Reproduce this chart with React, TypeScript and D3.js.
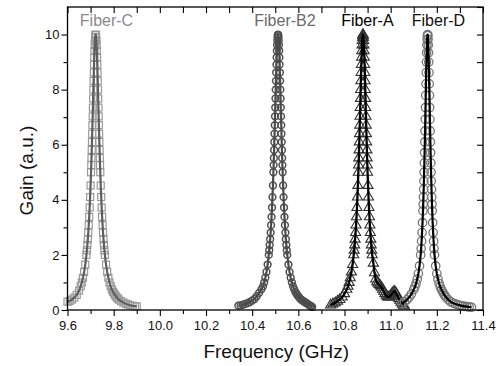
import { useRef, useEffect } from 'react';
import * as d3 from 'd3';

type Pt = [number, number];

const X_TICKS = [9.6, 9.8, 10.0, 10.2, 10.4, 10.6, 10.8, 11.0, 11.2, 11.4];
const X_MINOR = [9.7, 9.9, 10.1, 10.3, 10.5, 10.7, 10.9, 11.1, 11.3];
const Y_TICKS = [0, 2, 4, 6, 8, 10];
const Y_MINOR = [1, 3, 5, 7, 9];
const Y_RIGHT = [0, 1, 2, 3, 4, 5, 6, 7, 8, 9, 10, 11];

// frequency (GHz), gain (a.u.)
const fiberC: Pt[] = [
  [9.600, 0.30], [9.610, 0.33], [9.620, 0.38], [9.630, 0.45], [9.640, 0.55], [9.650, 0.70], [9.657, 0.86], [9.662, 1.00],
  [9.667, 1.17], [9.672, 1.38], [9.677, 1.65], [9.682, 2.00], [9.684, 2.17], [9.686, 2.36], [9.688, 2.57], [9.690, 2.81],
  [9.692, 3.08], [9.694, 3.38], [9.696, 3.72], [9.698, 4.10], [9.700, 4.52], [9.702, 5.00], [9.703, 5.26], [9.704, 5.52],
  [9.705, 5.81], [9.706, 6.10], [9.707, 6.40], [9.708, 6.71], [9.709, 7.03], [9.710, 7.35], [9.711, 7.68], [9.712, 8.00],
  [9.713, 8.32], [9.714, 8.62], [9.715, 8.91], [9.716, 9.17], [9.717, 9.41], [9.718, 9.62], [9.719, 9.78], [9.720, 9.90],
  [9.721, 9.98], [9.722, 10.0], [9.723, 9.98], [9.724, 9.90], [9.725, 9.78], [9.726, 9.62], [9.727, 9.41], [9.728, 9.17],
  [9.729, 8.91], [9.730, 8.62], [9.731, 8.32], [9.732, 8.00], [9.733, 7.68], [9.734, 7.35], [9.735, 7.03], [9.736, 6.71],
  [9.737, 6.40], [9.738, 6.10], [9.739, 5.81], [9.740, 5.52], [9.741, 5.26], [9.742, 5.00], [9.744, 4.52], [9.746, 4.10],
  [9.748, 3.72], [9.750, 3.38], [9.752, 3.08], [9.754, 2.81], [9.756, 2.57], [9.758, 2.36], [9.760, 2.17], [9.762, 2.00],
  [9.767, 1.65], [9.772, 1.38], [9.777, 1.17], [9.782, 1.00], [9.787, 0.86], [9.792, 0.75], [9.797, 0.66], [9.802, 0.59],
  [9.807, 0.53], [9.812, 0.47], [9.817, 0.42], [9.822, 0.38], [9.832, 0.32], [9.842, 0.27], [9.852, 0.23], [9.862, 0.20],
  [9.872, 0.17], [9.882, 0.15], [9.892, 0.14], [9.900, 0.13],
];

const fiberB2: Pt[] = [
  [10.340, 0.16], [10.350, 0.17], [10.360, 0.19], [10.370, 0.22], [10.380, 0.25], [10.390, 0.29], [10.400, 0.34], [10.410, 0.40],
  [10.420, 0.50], [10.430, 0.62], [10.440, 0.75], [10.447, 0.86], [10.452, 1.00], [10.457, 1.17], [10.462, 1.38], [10.467, 1.65],
  [10.472, 2.00], [10.474, 2.17], [10.476, 2.36], [10.478, 2.57], [10.480, 2.81], [10.482, 3.08], [10.484, 3.38], [10.486, 3.72],
  [10.488, 4.10], [10.490, 4.52], [10.492, 5.00], [10.493, 5.26], [10.494, 5.52], [10.495, 5.81], [10.496, 6.10], [10.497, 6.40],
  [10.498, 6.71], [10.499, 7.03], [10.500, 7.35], [10.501, 7.68], [10.502, 8.00], [10.503, 8.32], [10.504, 8.62], [10.505, 8.91],
  [10.506, 9.17], [10.507, 9.41], [10.508, 9.62], [10.509, 9.78], [10.510, 9.90], [10.511, 9.98], [10.512, 10.0], [10.513, 9.98],
  [10.514, 9.90], [10.515, 9.78], [10.516, 9.62], [10.517, 9.41], [10.518, 9.17], [10.519, 8.91], [10.520, 8.62], [10.521, 8.32],
  [10.522, 8.00], [10.523, 7.68], [10.524, 7.35], [10.525, 7.03], [10.526, 6.71], [10.527, 6.40], [10.528, 6.10], [10.529, 5.81],
  [10.530, 5.52], [10.531, 5.26], [10.532, 5.00], [10.534, 4.52], [10.536, 4.10], [10.538, 3.72], [10.540, 3.38], [10.542, 3.08],
  [10.544, 2.81], [10.546, 2.57], [10.548, 2.36], [10.550, 2.17], [10.552, 2.00], [10.557, 1.65], [10.562, 1.38], [10.567, 1.17],
  [10.572, 1.00], [10.577, 0.86], [10.582, 0.75], [10.587, 0.66], [10.592, 0.59], [10.597, 0.53], [10.602, 0.47], [10.607, 0.42],
  [10.612, 0.38], [10.617, 0.35], [10.622, 0.32], [10.627, 0.29], [10.632, 0.27], [10.637, 0.24], [10.642, 0.21], [10.647, 0.18],
  [10.652, 0.15], [10.656, 0.13], [10.660, 0.11],
];

const fiberA: Pt[] = [
  [10.740, 0.18], [10.750, 0.22], [10.760, 0.26], [10.770, 0.32], [10.780, 0.38], [10.790, 0.47], [10.800, 0.59], [10.810, 0.75],
  [10.815, 0.86], [10.820, 1.00], [10.825, 1.17], [10.830, 1.38], [10.835, 1.65], [10.840, 2.00], [10.842, 2.17], [10.844, 2.36],
  [10.846, 2.57], [10.848, 2.81], [10.850, 3.08], [10.852, 3.38], [10.854, 3.72], [10.856, 4.10], [10.858, 4.52], [10.860, 5.00],
  [10.861, 5.26], [10.862, 5.52], [10.863, 5.81], [10.864, 6.10], [10.865, 6.40], [10.866, 6.71], [10.867, 7.03], [10.868, 7.35],
  [10.869, 7.68], [10.870, 8.00], [10.871, 8.32], [10.872, 8.62], [10.873, 8.91], [10.874, 9.17], [10.875, 9.41], [10.876, 9.62],
  [10.877, 9.78], [10.878, 9.90], [10.879, 9.98], [10.880, 10.0], [10.881, 9.98], [10.882, 9.90], [10.883, 9.78], [10.884, 9.62],
  [10.885, 9.41], [10.886, 9.17], [10.887, 8.91], [10.888, 8.62], [10.889, 8.32], [10.890, 8.00], [10.891, 7.68], [10.892, 7.35],
  [10.893, 7.03], [10.894, 6.71], [10.895, 6.40], [10.896, 6.10], [10.897, 5.81], [10.898, 5.52], [10.899, 5.26], [10.900, 5.00],
  [10.902, 4.52], [10.904, 4.10], [10.906, 3.72], [10.908, 3.38], [10.910, 3.08], [10.912, 2.81], [10.914, 2.57], [10.916, 2.36],
  [10.918, 2.17], [10.920, 2.00], [10.925, 1.70], [10.930, 1.35], [10.935, 1.12], [10.940, 1.02], [10.945, 0.97], [10.950, 0.92],
  [10.955, 0.88], [10.960, 0.82], [10.965, 0.75], [10.970, 0.68], [10.975, 0.60], [10.980, 0.53], [10.985, 0.48], [10.990, 0.46],
  [10.995, 0.48], [11.000, 0.53], [11.005, 0.58], [11.010, 0.63], [11.015, 0.68], [11.020, 0.65], [11.025, 0.58], [11.030, 0.50],
  [11.035, 0.42], [11.040, 0.35], [11.045, 0.28], [11.050, 0.22], [11.055, 0.17], [11.060, 0.14],
];

const fiberD: Pt[] = [
  [11.050, 0.22], [11.060, 0.30], [11.070, 0.37], [11.080, 0.46], [11.090, 0.58], [11.100, 0.74], [11.105, 0.84], [11.110, 0.96],
  [11.115, 1.12], [11.120, 1.32], [11.125, 1.60], [11.130, 2.00], [11.132, 2.23], [11.134, 2.50], [11.136, 2.81], [11.138, 3.17],
  [11.140, 3.60], [11.141, 3.84], [11.142, 4.10], [11.143, 4.38], [11.144, 4.68], [11.145, 5.00], [11.146, 5.34], [11.147, 5.71],
  [11.148, 6.10], [11.149, 6.50], [11.150, 6.92], [11.151, 7.35], [11.152, 7.79], [11.153, 8.21], [11.154, 8.62], [11.155, 9.00],
  [11.156, 9.34], [11.157, 9.62], [11.158, 9.83], [11.159, 9.96], [11.160, 10.0], [11.161, 9.96], [11.162, 9.83], [11.163, 9.62],
  [11.164, 9.34], [11.165, 9.00], [11.166, 8.62], [11.167, 8.21], [11.168, 7.79], [11.169, 7.35], [11.170, 6.92], [11.171, 6.50],
  [11.172, 6.10], [11.173, 5.71], [11.174, 5.34], [11.175, 5.00], [11.176, 4.68], [11.177, 4.38], [11.178, 4.10], [11.179, 3.84],
  [11.180, 3.60], [11.182, 3.17], [11.184, 2.81], [11.186, 2.50], [11.188, 2.23], [11.190, 2.00], [11.195, 1.60], [11.200, 1.32],
  [11.205, 1.12], [11.210, 0.96], [11.215, 0.84], [11.220, 0.74], [11.225, 0.66], [11.230, 0.58], [11.235, 0.52], [11.240, 0.46],
  [11.250, 0.37], [11.260, 0.30], [11.270, 0.25], [11.280, 0.22], [11.290, 0.19], [11.300, 0.17], [11.310, 0.15], [11.320, 0.13],
  [11.330, 0.12], [11.340, 0.11], [11.350, 0.10],
];

// label anchors in data units (centre frequency, baseline gain)
const LABELS = [
  { text: 'Fiber-C', f: 9.769, g: 10.3, color: '#8a8a8a' },
  { text: 'Fiber-B2', f: 10.542, g: 10.3, color: '#6a6a6a' },
  { text: 'Fiber-A', f: 10.899, g: 10.3, color: '#000' },
  { text: 'Fiber-D', f: 11.207, g: 10.3, color: '#111' },
];

const SERIES = [
  { data: fiberC, marker: 'square', mk: '#9a9a9a', sw: 1.2, line: '#5e5e5e', lw: 2.2 },
  { data: fiberB2, marker: 'circle', mk: '#505050', sw: 1.5, line: '#4a4a4a', lw: 2.2, r: 3.4 },
  { data: fiberA, marker: 'triangle', mk: '#333', sw: 1.1, line: '#000', lw: 2.3 },
  { data: fiberD, marker: 'circle', mk: '#777', sw: 1.3, line: '#000', lw: 2.2, r: 4.2 },
];

const FONT = '"Liberation Sans", Arial, Helvetica, sans-serif';

export default function App() {
  const ref = useRef<SVGSVGElement | null>(null);

  useEffect(() => {
    const svg = d3.select(ref.current);
    svg.selectAll('*').remove();

    const L = 67.5, R = 483, T = 7, B = 310;
    const x = d3.scaleLinear().domain([9.6, 11.4]).range([L, R]);
    const y = d3.scaleLinear().domain([0, 11]).range([B, T]);

    svg.append('rect').attr('width', 503).attr('height', 366).attr('fill', '#fff');

    const styleAxis = (s: any) => {
      s.select('.domain').remove();
      s.selectAll('line').attr('stroke', '#000').attr('stroke-width', 1.1);
      s.selectAll('text').attr('fill', '#111').style('font-family', FONT).style('font-size', '13px');
    };

    // bottom
    svg.append('g').attr('transform', `translate(0,${B})`)
      .call(d3.axisBottom(x).tickValues(X_TICKS).tickSize(6).tickPadding(5).tickFormat(d3.format('.1f')))
      .call(styleAxis);
    svg.append('g').attr('transform', `translate(0,${B})`)
      .call(d3.axisBottom(x).tickValues(X_MINOR).tickSize(4).tickFormat(() => ''))
      .call(styleAxis);
    // left
    svg.append('g').attr('transform', `translate(${L},0)`)
      .call(d3.axisLeft(y).tickValues(Y_TICKS).tickSize(6).tickPadding(2).tickFormat(d3.format('d')))
      .call(styleAxis);
    svg.append('g').attr('transform', `translate(${L},0)`)
      .call(d3.axisLeft(y).tickValues(Y_MINOR).tickSize(4).tickFormat(() => ''))
      .call(styleAxis);
    // top & right, ticks pointing inward
    svg.append('g').attr('transform', `translate(0,${T})`)
      .call(d3.axisTop(x).tickValues([...X_TICKS, ...X_MINOR]).tickSize(-6).tickFormat(() => ''))
      .call(styleAxis);
    svg.append('g').attr('transform', `translate(${R},0)`)
      .call(d3.axisRight(y).tickValues(Y_RIGHT).tickSize(-6).tickFormat(() => ''))
      .call(styleAxis);

    const line = d3.line<Pt>().x(d => x(d[0])).y(d => y(d[1]));
    const tri = d3.symbol().type(d3.symbolTriangle).size(44)();

    SERIES.forEach(s => {
      const g = svg.append('g');
      const mg = g.append('g').attr('fill', 'none').attr('stroke', s.mk).attr('stroke-width', s.sw);
      s.data.forEach(([f, v]) => {
        const cx = x(f), cy = y(v);
        if (s.marker === 'square') {
          mg.append('rect').attr('x', cx - 3.5).attr('y', cy - 3.5).attr('width', 7).attr('height', 7);
        } else if (s.marker === 'triangle') {
          mg.append('path').attr('d', tri).attr('transform', `translate(${cx},${cy})`);
        } else {
          mg.append('circle').attr('cx', cx).attr('cy', cy).attr('r', s.r ?? 3);
        }
      });
      g.append('path').datum(s.data).attr('d', line)
        .attr('fill', 'none').attr('stroke', s.line).attr('stroke-width', s.lw)
        .attr('stroke-linejoin', 'round');
    });

    // frame
    svg.append('rect').attr('x', L).attr('y', T).attr('width', R - L).attr('height', B - T)
      .attr('fill', 'none').attr('stroke', '#000').attr('stroke-width', 1.3);

    LABELS.forEach(l => {
      svg.append('text').attr('x', x(l.f)).attr('y', y(l.g))
        .attr('text-anchor', 'middle').attr('fill', l.color)
        .style('font-family', FONT).style('font-size', '16px')
        .text(l.text);
    });

    svg.append('text').attr('x', (L + R) / 2 + 1).attr('y', 358)
      .attr('text-anchor', 'middle').attr('fill', '#111')
      .style('font-family', FONT).style('font-size', '19px')
      .text('Frequency (GHz)');

    svg.append('text').attr('transform', `translate(33,${(T + B) / 2 + 12}) rotate(-90)`)
      .attr('text-anchor', 'middle').attr('fill', '#111')
      .style('font-family', FONT).style('font-size', '19px')
      .text('Gain (a.u.)');
  }, []);

  return (
    <svg ref={ref} width={503} height={366}
      style={{ position: 'absolute', left: 0, top: 0 }} />
  );
}
